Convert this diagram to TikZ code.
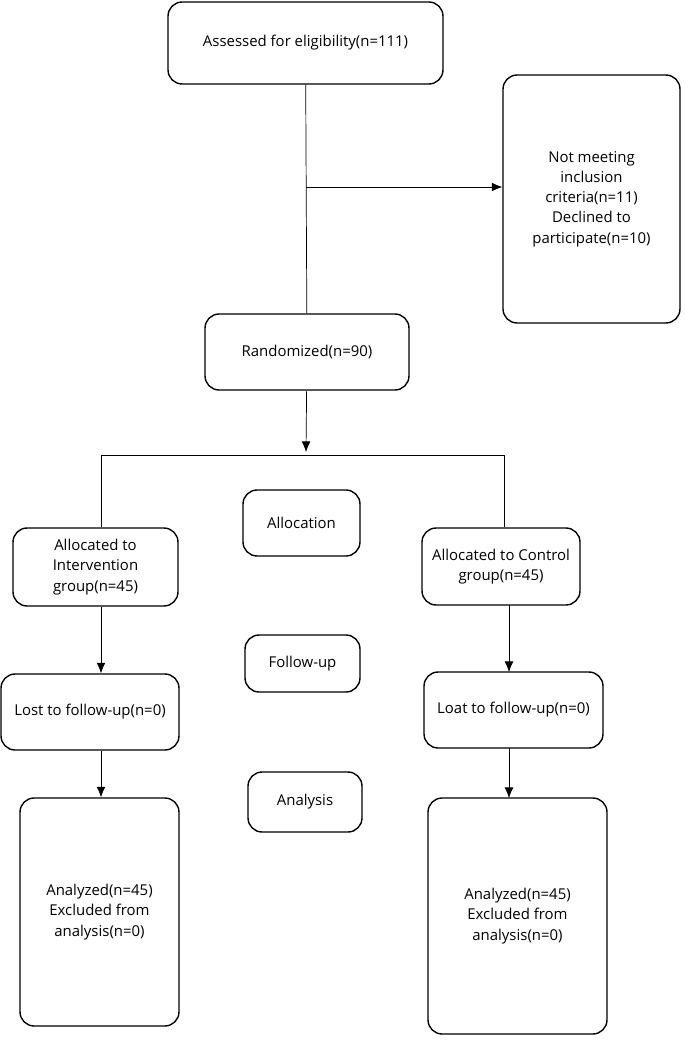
\documentclass[tikz,border=0pt]{standalone}
\usepackage{fontspec}
\setmainfont{Open Sans}
\usetikzlibrary{positioning,arrows.meta}
\tikzset{
  box/.style={draw, thick, rounded corners=8pt, align=center, font=\fontsize{8.5}{11.5}\selectfont},
  link/.style={thin},
  tip/.style={-{Latex[length=6pt,width=5pt]}}
}
\begin{document}
\begin{tikzpicture}[x=0.02cm,y=-0.02cm]
        \useasboundingbox (0,0) rectangle (685,1040);
        %main stem
        \node[box, minimum width=5.5cm, minimum height=1.64cm] (assess) at (305.5,43) {Assessed for eligibility(n=111)};
        \node[box, minimum width=3.54cm, minimum height=4.96cm] (excl) at (591.5,199) {Not meeting\\inclusion\\criteria(n=11)\\Declined to\\participate(n=10)};
        \node[box, minimum width=4.08cm, minimum height=1.52cm] (rand) at (307,352) {Randomized(n=90)};
        
        %stage labels
        \node[box, minimum width=2.34cm, minimum height=1.32cm] (alloc) at (301.5,523) {Allocation};
        \node[box, minimum width=2.3cm, minimum height=1.14cm] (follow) at (302.5,663.5) {Follow-up};
        \node[box, minimum width=2.28cm, minimum height=1.2cm] (analysis) at (305,802) {Analysis};
        
        %two arms
        \node[box, minimum width=3.3cm, minimum height=1.56cm] (int) at (95.5,567) {Allocated to\\Intervention\\group(n=45)};
        \node[box, minimum width=3.16cm, minimum height=1.54cm] (ctrl) at (501,566.5) {Allocated to Control\\group(n=45)};
        \node[box, minimum width=3.56cm, minimum height=1.52cm] (lostA) at (90,712) {Lost to follow-up(n=0)};
        \node[box, minimum width=3.58cm, minimum height=1.52cm] (lostB) at (513.5,710) {Loat to follow-up(n=0)};
        \node[box, minimum width=3.18cm, minimum height=4.56cm] (anA) at (99.5,912) {Analyzed(n=45)\\Excluded from\\analysis(n=0)};
        \node[box, minimum width=3.58cm, minimum height=4.72cm] (anB) at (517.5,916) {Analyzed(n=45)\\Excluded from\\analysis(n=0)};
        
        \coordinate (split) at (306,187);
        \coordinate (fork) at (306,455);
        \coordinate (forkL) at (101,455);
        \coordinate (forkR) at (504,455);
        
        \draw[link] (assess) -- (rand);
        \draw[link,tip] (split) -- (split -| excl.west);
        \draw[link,tip] (rand) -- ([yshift=0.06cm]fork);
        \draw[link] (forkL) -- (forkR);
        \draw[link] (forkL) -- (forkL |- int.north);
        \draw[link] (forkR) -- (forkR |- ctrl.north);
        \draw[link,tip] (int.south -| forkL) -- (forkL |- lostA.north);
        \draw[link,tip] (lostA.south -| forkL) -- (forkL |- anA.north);
        \draw[link,tip] (509,605) -- (509,672);
        \draw[link,tip] (509,748) -- (509,798);
        
\end{tikzpicture}
\end{document}
